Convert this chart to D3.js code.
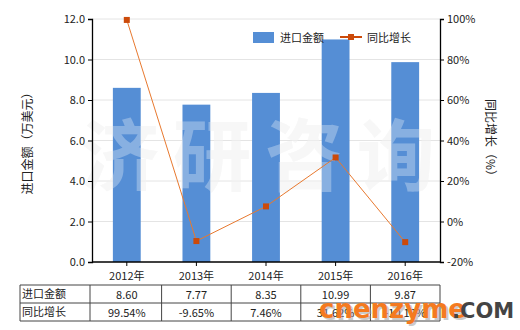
<!DOCTYPE html>
<html>
<head>
<meta charset="utf-8">
<script src="https://cdn.jsdelivr.net/npm/d3@7"></script>
<style>
  body { margin: 0; background: #fff; }
  text { font-family: "Noto Sans CJK SC", "Noto Sans", sans-serif; }
</style>
</head>
<body>
<div id="chart"></div>
<script>
//data
const years = ['2012年', '2013年', '2014年', '2015年', '2016年']
const amount = [8.60, 7.77, 8.35, 10.99, 9.87]
const growth = [99.54, -9.65, 7.46, 31.62, -10.19]
const amountLabels = ['8.60', '7.77', '8.35', '10.99', '9.87']
const growthLabels = ['99.54%', '-9.65%', '7.46%', '31.62%', '-10.19%']
const leftTicks = [0, 2, 4, 6, 8, 10, 12]
const rightTicks = [-20, 0, 20, 40, 60, 80, 100]

//dimensions
const width = 520, height = 330
const m = { left: 92, right: 440, top: 19, bottom: 262 }

const svg = d3.select('#chart')
  .append('svg')
  .attr('width', width)
  .attr('height', height)

//scales
const x = d3.scaleBand().domain(years).range([m.left, m.right]).paddingInner(0.6).paddingOuter(0.3)
const xc = d => x(d) + x.bandwidth() / 2
const yL = d3.scaleLinear().domain([0, 12]).range([m.bottom, m.top])
const yR = d3.scaleLinear().domain([-20, 100]).range([m.bottom, m.top])

//grid
svg.append('g')
  .selectAll('line')
  .data(leftTicks.slice(1))
  .join('line')
  .attr('x1', m.left).attr('x2', m.right)
  .attr('y1', d => yL(d)).attr('y2', d => yL(d))
  .attr('stroke', '#e4e4e4')

//watermark
svg.append('text')
  .attr('x', 265).attr('y', 185)
  .attr('text-anchor', 'middle')
  .attr('font-size', 78)
  .attr('font-weight', 'bold')
  .attr('fill', '#e8e8e8')
  .attr('opacity', 0.45)
  .attr('letter-spacing', 14)
  .text('济研咨询')

//bars
svg.append('g')
  .selectAll('rect')
  .data(amount)
  .join('rect')
  .attr('x', (d, i) => x(years[i]))
  .attr('width', x.bandwidth())
  .attr('y', d => yL(d))
  .attr('height', d => yL(0) - yL(d))
  .attr('fill', '#558ed5')

//watermark over bars
svg.append('text')
  .attr('x', 265).attr('y', 185)
  .attr('text-anchor', 'middle')
  .attr('font-size', 78)
  .attr('font-weight', 'bold')
  .attr('fill', '#ffffff')
  .attr('opacity', 0.3)
  .attr('letter-spacing', 14)
  .text('济研咨询')

//line
const line = d3.line()
  .x((d, i) => xc(years[i]))
  .y(d => yR(d))

svg.append('path')
  .datum(growth)
  .attr('d', line)
  .attr('fill', 'none')
  .attr('stroke', '#e8792f')
  .attr('stroke-width', 1)

svg.append('g')
  .selectAll('rect')
  .data(growth)
  .join('rect')
  .attr('x', (d, i) => xc(years[i]) - 3)
  .attr('y', d => yR(d) - 3)
  .attr('width', 6).attr('height', 6)
  .attr('fill', '#cc4a0a')

//axes
const axisL = svg.append('g')
  .attr('transform', `translate(${m.left},0)`)
  .call(d3.axisLeft(yL).tickValues(leftTicks).tickFormat(d3.format('.1f')).tickSize(4))
const axisR = svg.append('g')
  .attr('transform', `translate(${m.right},0)`)
  .call(d3.axisRight(yR).tickValues(rightTicks).tickFormat(d => d + '%').tickSize(4))
const axisB = svg.append('g')
  .attr('transform', `translate(0,${m.bottom})`)
  .call(d3.axisBottom(x).tickSize(4).tickPadding(6))

for (const a of [axisL, axisR, axisB]) {
  a.select('.domain').attr('stroke', '#000').attr('stroke-width', 1.3)
  a.selectAll('.tick line').attr('stroke', '#000')
  a.selectAll('text').attr('font-size', 11).attr('fill', '#222')
    .style('font-family', '"Noto Sans CJK SC", sans-serif')
}
axisB.select('.domain').attr('d', `M${m.left},0H${m.right}`)

//axis titles
svg.append('text')
  .attr('transform', `translate(32,${(m.top + m.bottom) / 2}) rotate(-90)`)
  .attr('text-anchor', 'middle')
  .attr('font-size', 12)
  .attr('fill', '#222')
  .text('进口金额（万美元）')

svg.append('text')
  .attr('transform', `translate(486,${(m.top + m.bottom) / 2}) rotate(90)`)
  .attr('text-anchor', 'middle')
  .attr('font-size', 12)
  .attr('fill', '#222')
  .text('同比增长（%）')

//legend
const lg = svg.append('g').attr('font-size', 11).attr('fill', '#222')
lg.append('rect').attr('x', 253).attr('y', 32).attr('width', 21).attr('height', 11).attr('fill', '#558ed5')
lg.append('text').attr('x', 280).attr('y', 42).text('进口金额')
lg.append('line').attr('x1', 340).attr('x2', 362).attr('y1', 37).attr('y2', 37)
  .attr('stroke', '#cc4a0a').attr('stroke-width', 2)
lg.append('rect').attr('x', 348).attr('y', 34).attr('width', 6).attr('height', 6).attr('fill', '#cc4a0a')
lg.append('text').attr('x', 367).attr('y', 42).text('同比增长')

//table
const tx0 = 20, tx1 = 90
const rowY = [285, 303, 321]
const tbl = svg.append('g')
const colEdges = [tx0, tx1].concat(years.map(d => x(d) + x.bandwidth() / 2 + x.step() / 2))
tbl.selectAll('line.h')
  .data(rowY)
  .join('line')
  .attr('x1', tx0).attr('x2', colEdges[colEdges.length - 1])
  .attr('y1', d => d).attr('y2', d => d)
  .attr('stroke', '#444')
tbl.selectAll('line.v')
  .data(colEdges)
  .join('line')
  .attr('x1', d => d).attr('x2', d => d)
  .attr('y1', rowY[0]).attr('y2', rowY[2])
  .attr('stroke', '#444')

const rows = [['进口金额', amountLabels], ['同比增长', growthLabels]]
rows.forEach((r, j) => {
  tbl.append('text')
    .attr('x', tx0 + 2).attr('y', rowY[j] + 13)
    .attr('font-size', 11).attr('fill', '#222')
    .text(r[0])
  tbl.selectAll(null)
    .data(r[1])
    .join('text')
    .attr('x', (d, i) => xc(years[i]))
    .attr('y', rowY[j] + 14)
    .attr('text-anchor', 'middle')
    .attr('font-size', 11).attr('fill', '#222')
    .text(d => d)
})

//logo
const logo = svg.append('g')
logo.append('text')
  .attr('x', 321).attr('y', 320)
  .attr('font-size', 26).attr('font-weight', 'bold')
  .attr('fill', '#999').attr('opacity', 0.5)
  .style('font-family', '"DejaVu Sans", sans-serif')
  .text('cnenzyme')
logo.append('text')
  .attr('x', 319).attr('y', 318)
  .attr('font-size', 26).attr('font-weight', 'bold')
  .attr('fill', '#f47a20')
  .style('font-family', '"DejaVu Sans", sans-serif')
  .text('cnenzyme')
logo.append('text')
  .attr('x', 452).attr('y', 318)
  .attr('font-size', 21).attr('font-weight', 'bold')
  .attr('fill', '#444')
  .style('font-family', '"DejaVu Sans", sans-serif')
  .text('.COM')
</script>
</body>
</html>
